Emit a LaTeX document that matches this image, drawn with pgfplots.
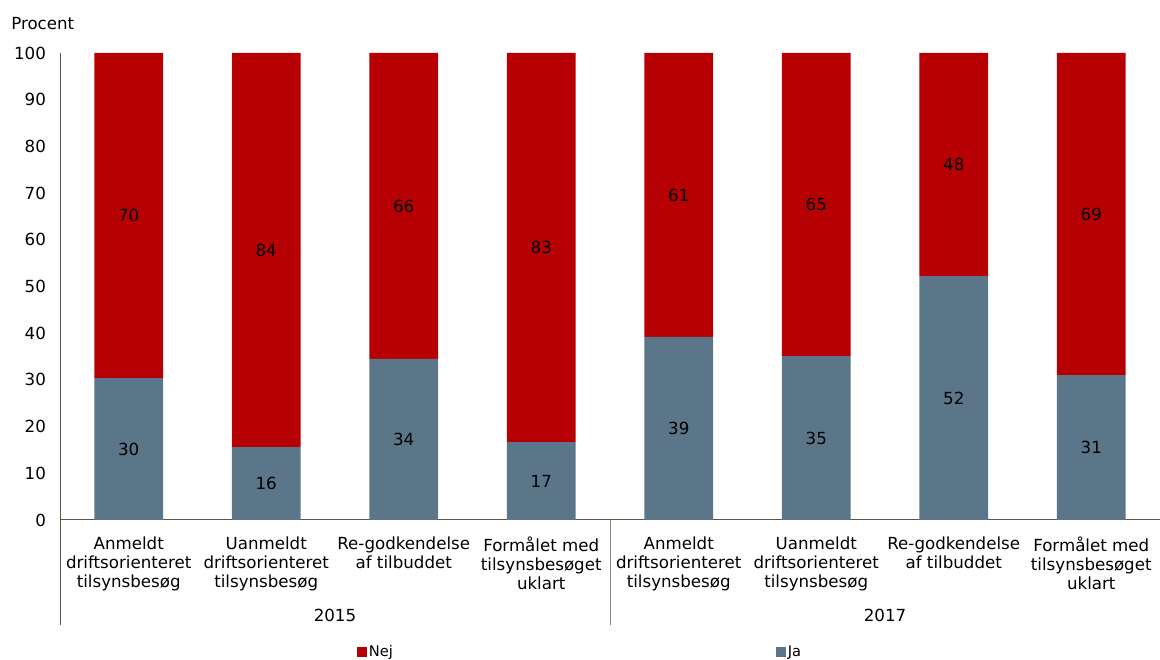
\documentclass[border=0pt]{standalone}
\usepackage{pgfplots}
\pgfplotsset{compat=1.18}
\usepackage{pgfplotstable}
\usepackage{fontspec}
\setmainfont{DejaVu Sans}
\definecolor{nej}{RGB}{183,0,4}
\definecolor{ja}{RGB}{91,118,137}
\definecolor{axisc}{RGB}{95,85,65}
\definecolor{sepc}{RGB}{140,130,112}
\pgfplotstableread{
x ja nej jal nejl
0 30.4 69.6 30 70
1 15.6 84.4 16 84
2 34.5 65.5 34 66
3 16.7 83.3 17 83
4 39.2 60.8 39 61
5 35.1 64.9 35 65
6 52.2 47.8 52 48
7 31.0 69.0 31 69
}\datatable
\begin{document}
\begin{tikzpicture}
\useasboundingbox (0,0) rectangle (870pt,495pt);
\begin{axis}[
  at={(45pt,105pt)}, anchor=south west,
  scale only axis, width=825pt, height=350.25pt,
  ybar stacked, bar width=0.5,
  xmin=-0.5, xmax=7.5, ymin=0, ymax=100,
  ytick={0,10,...,100},
  xtick={0,...,7},
  xticklabels={{Anmeldt\\driftsorienteret\\tilsynsbesøg},{Uanmeldt\\driftsorienteret\\tilsynsbesøg},{Re-godkendelse\\af tilbuddet},{Formålet med\\tilsynsbesøget\\uklart},{Anmeldt\\driftsorienteret\\tilsynsbesøg},{Uanmeldt\\driftsorienteret\\tilsynsbesøg},{Re-godkendelse\\af tilbuddet},{Formålet med\\tilsynsbesøget\\uklart}},
  axis x line*=bottom, axis y line*=left,
  axis line style={axisc, line width=0.75pt},
  major tick length=0pt,
  tick label style={font=\fontsize{12.5}{14.25}\selectfont},
  /pgf/number format/assume math mode=true,
  xticklabel style={align=center, anchor=north, yshift=-8.8pt},
  yticklabel style={xshift=-7pt},
  clip=false,
  legend columns=2,
  legend style={at={(axis description cs:0.27,-0.2827)}, anchor=west, draw=none, fill=none, inner sep=0pt,
    font=\fontsize{11}{13}\selectfont, nodes={inner sep=1.5pt},
    /tikz/column 2/.style={column sep=286pt}},
  legend cell align=left,
]
\addplot[fill=ja, draw=none, forget plot, nodes near coords, point meta=explicit symbolic,
  every node near coord/.append style={anchor=center, font=\fontsize{12.5}{15}\selectfont}]
  table[x=x, y=ja, meta=jal] {\datatable};
\addplot[fill=nej, draw=none, forget plot, nodes near coords, point meta=explicit symbolic,
  every node near coord/.append style={anchor=center, font=\fontsize{12.5}{15}\selectfont}]
  table[x=x, y=nej, meta=nejl] {\datatable};
\addlegendimage{legend image code/.code={\fill[nej] (0pt,-3.4pt) rectangle (6.8pt,3.4pt);}}
\addlegendentry{Nej}
\addlegendimage{legend image code/.code={\fill[ja] (0pt,-3.4pt) rectangle (6.8pt,3.4pt);}}
\addlegendentry{Ja}
\draw[axisc, line width=0.75pt] (axis cs:-0.5,0) -- ++(0pt,-78.75pt);
\draw[sepc, line width=0.75pt] (axis cs:3.5,0) -- ++(0pt,-78.75pt);
\node[anchor=base, font=\fontsize{12.5}{15}\selectfont] at (axis cs:1.5,0) [yshift=-76.5pt] {2015};
\node[anchor=base, font=\fontsize{12.5}{15}\selectfont] at (axis cs:5.5,0) [yshift=-76.5pt] {2017};
\node[anchor=base west, font=\fontsize{12.5}{15}\selectfont, inner sep=0pt] at (rel axis cs:0,1) [xshift=-36.75pt, yshift=17.25pt] {Procent};
\end{axis}
\end{tikzpicture}
\end{document}
